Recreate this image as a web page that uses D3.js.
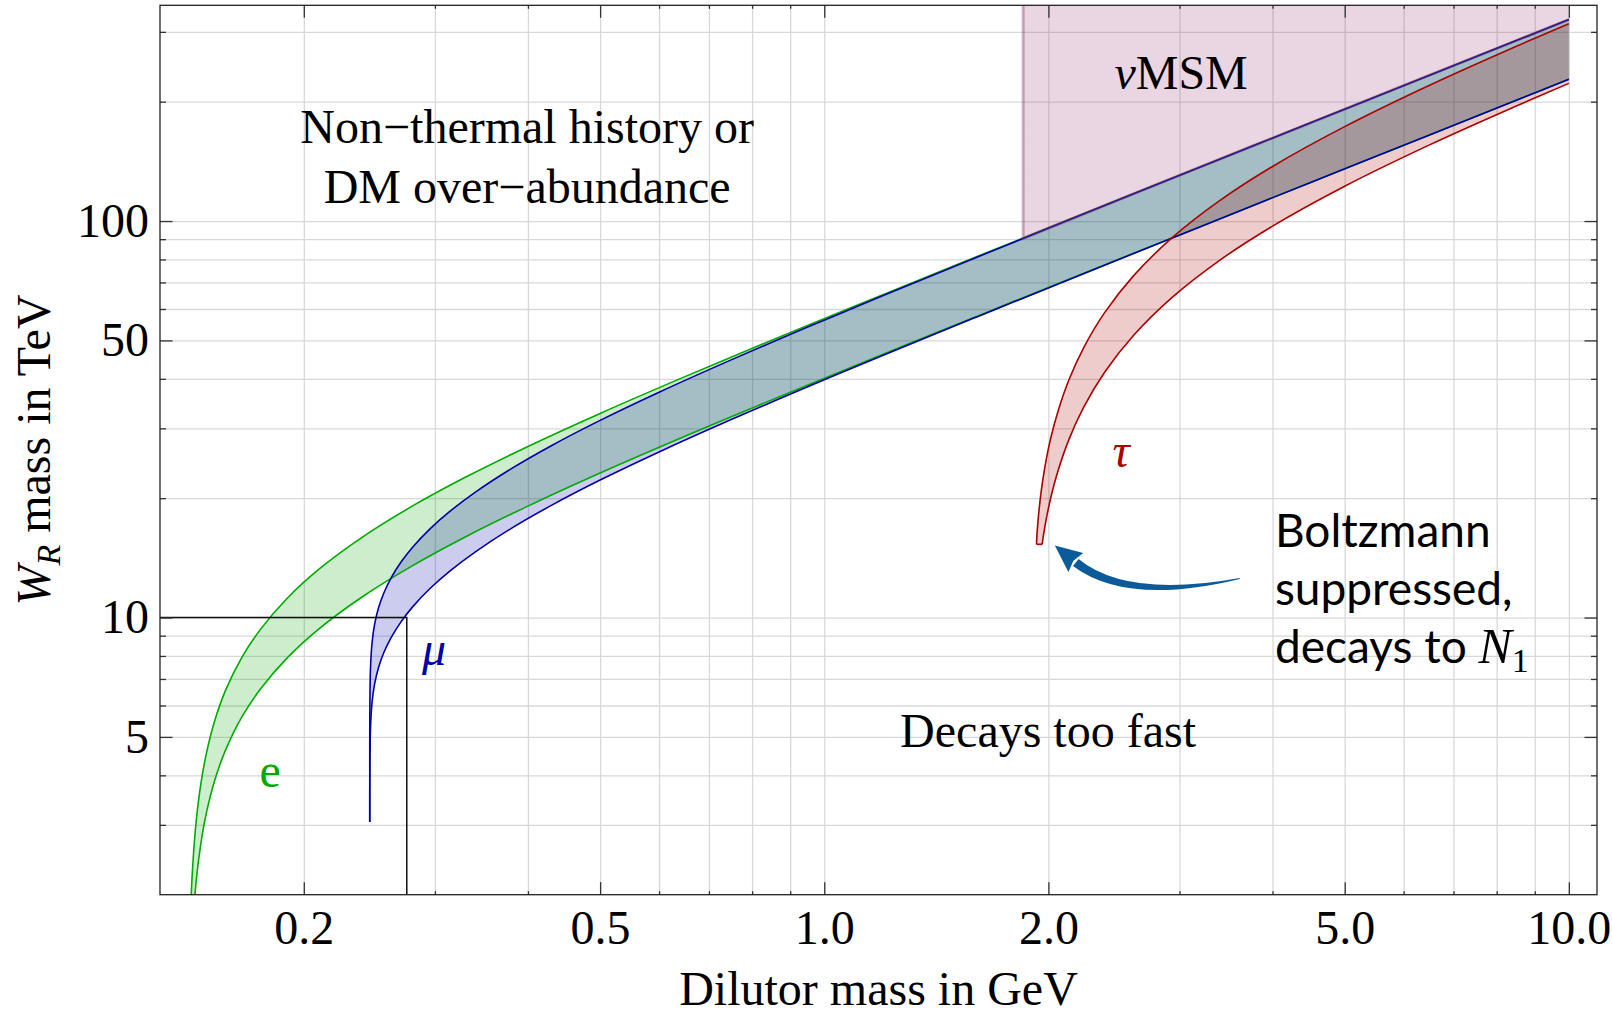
<!DOCTYPE html>
<html>
<head>
<meta charset="utf-8">
<script src="https://cdnjs.cloudflare.com/ajax/libs/d3/7.8.5/d3.min.js"></script>
<style>
  body { margin: 0; background: #fff; }
</style>
</head>
<body>
<div id="chart"></div>
<script>
// dilutor mass (GeV) and W_R mass (TeV)

// e band
var eMass  = [0.1400, 0.1410, 0.1420, 0.1435, 0.1455, 0.1480, 0.152, 0.157, 0.165, 0.175, 0.19, 0.21, 0.24, 0.28, 0.33, 0.40, 0.50, 0.65, 0.85, 1.1, 1.5, 2.0, 3.0, 4.5, 6.5, 8.5, 10];
var eUpper = [1.03, 1.87, 2.44, 3.11, 3.82, 4.55, 5.53, 6.55, 7.91, 9.35, 11.19, 13.28, 15.98, 19.12, 22.61, 27.01, 32.72, 40.51, 50.04, 61.05, 77.33, 96.13, 130.5, 176.9, 233.2, 285.2, 322.2];
var eLower = [0.73, 1.33, 1.73, 2.20, 2.70, 3.22, 3.91, 4.63, 5.60, 6.61, 7.91, 9.39, 11.30, 13.52, 15.99, 19.10, 23.14, 28.65, 35.38, 43.17, 54.68, 67.98, 92.27, 125.1, 164.9, 201.7, 227.8];

// mu band
var muMass  = [0.245236, 0.2453, 0.2458, 0.2470, 0.2490, 0.2520, 0.2560, 0.2620, 0.2700, 0.2800, 0.2950, 0.3150, 0.3400, 0.3800, 0.4300, 0.50, 0.60, 0.75, 0.95, 1.2, 1.6, 2.2, 3.2, 4.5, 6.5, 8.5, 10];
var muUpper = [4.33, 5.72, 7.44, 8.64, 9.64, 10.58, 11.50, 12.59, 13.78, 15.04, 16.69, 18.60, 20.72, 23.74, 27.13, 31.42, 37.00, 44.65, 54.01, 64.86, 80.94, 103.1, 136.9, 176.9, 233.2, 285.1, 322.2];
var muLower = [3.05, 4.04, 5.26, 6.11, 6.81, 7.48, 8.14, 8.90, 9.74, 10.64, 11.80, 13.15, 14.65, 16.79, 19.18, 22.22, 26.16, 31.57, 38.19, 45.86, 57.23, 72.92, 96.78, 125.1, 164.9, 201.6, 227.8];

// tau band
var tauUpperMass = [1.9277, 1.93, 1.935, 1.94, 1.95, 1.965, 1.99, 2.015, 2.06, 2.13, 2.23, 2.38, 2.6, 2.93, 3.4, 4.0, 5.0, 6.5, 8.5, 10];
var tauUpper     = [15.3, 16.02, 17.14, 18.12, 19.87, 22.15, 25.45, 28.40, 33.10, 39.67, 47.90, 58.76, 72.63, 90.64, 112.7, 137.3, 173.0, 220.0, 275.8, 314.5];
var tauLowerMass = [1.9614, 1.965, 1.975, 1.99, 2.015, 2.06, 2.13, 2.23, 2.38, 2.6, 2.93, 3.4, 4.0, 5.0, 6.5, 8.5, 10];
var tauLower     = [15.3, 15.66, 16.64, 18.00, 20.08, 23.41, 28.06, 33.88, 41.55, 51.36, 64.09, 79.71, 97.08, 122.4, 155.6, 195.0, 222.4];

// nuMSM region, bounded below by the mu band
var vmsmMass  = [1.85, 2.2, 3.2, 4.5, 6.5, 8.5, 10];
var vmsmLower = [90.4, 103.1, 136.9, 176.9, 233.2, 285.1, 322.2];

// black box corner (mass, W_R)
var boxCorner = [0.275, 10];

// ticks
var xMajor = [0.2, 0.5, 1, 2, 5, 10];
var xLabels = ["0.2", "0.5", "1.0", "2.0", "5.0", "10.0"];
var xMinor = [0.3, 0.4, 0.6, 0.7, 0.8, 0.9, 3, 4, 6, 7, 8, 9];
var yMajor = [5, 10, 50, 100];
var yLabels = ["5", "10", "50", "100"];
var yMinor = [3, 4, 6, 7, 8, 9, 20, 30, 40, 60, 70, 80, 90, 200, 300];

var SERIF = '"Liberation Serif", "Times New Roman", serif';
var SANS = 'Lato, "Open Sans", sans-serif';

function zip(ms, ws){
    return ms.map(function(m, i){ return [m, ws[i]]; });
}

function init(){

    var w = 1612, h = 1017;
    var left = 160, right = 1597, top = 5.3, bottom = 894.7;

    var x = d3.scaleLog().domain([0.1282, 10.91]).range([left, right]);
    var y = d3.scaleLog().domain([2, 350]).range([bottom, top]);

    var svg = d3.select("#chart")
                .append("svg")
                .attr("width", w)
                .attr("height", h);

    // grid
    svg.append("g")
        .attr("transform", "translate(0," + bottom + ")")
        .call(d3.axisBottom(x).tickValues(xMajor.concat(xMinor)).tickSize(-(bottom - top)).tickFormat(""))
        .call(function(g){ g.select(".domain").remove(); })
        .selectAll("line").attr("stroke", "#d8d8d8").attr("stroke-width", 1.3);

    svg.append("g")
        .attr("transform", "translate(" + left + ",0)")
        .call(d3.axisLeft(y).tickValues(yMajor.concat(yMinor)).tickSize(-(right - left)).tickFormat(""))
        .call(function(g){ g.select(".domain").remove(); })
        .selectAll("line").attr("stroke", "#d8d8d8").attr("stroke-width", 1.3);

    svg.append("clipPath").attr("id", "plotclip")
        .append("rect")
        .attr("x", left).attr("y", top)
        .attr("width", right - left).attr("height", bottom - top);

    var plot = svg.append("g").attr("clip-path", "url(#plotclip)");

    var line = d3.line()
                 .x(function(d){ return x(d[0]); })
                 .y(function(d){ return y(d[1]); })
                 .curve(d3.curveCatmullRom.alpha(0.5));

    // nuMSM fill
    var vmsm = zip(vmsmMass, vmsmLower);
    var purple = "#963270";
    plot.append("path")
        .attr("d", line(vmsm) + "L" + x(10) + "," + y(350) + "L" + x(vmsmMass[0]) + "," + y(350) + "Z")
        .attr("fill", purple)
        .attr("fill-opacity", 0.2);

    var bands = [
        { up: zip(eMass, eUpper), lo: zip(eMass, eLower), color: "#00aa00" },
        { up: zip(muMass, muUpper), lo: zip(muMass, muLower), color: "#0000aa" },
        { up: zip(tauUpperMass, tauUpper), lo: zip(tauLowerMass, tauLower), color: "#aa0000" }
    ];

    bands.forEach(function(b){
        var rev = line(b.lo.slice().reverse());
        plot.append("path")
            .attr("d", line(b.up) + "L" + rev.slice(1) + "Z")
            .attr("fill", b.color)
            .attr("fill-opacity", 0.2);
    });

    bands.forEach(function(b){
        plot.append("path").attr("d", line(b.up))
            .attr("fill", "none").attr("stroke", b.color).attr("stroke-width", 1.6);
        plot.append("path").attr("d", line(b.lo))
            .attr("fill", "none").attr("stroke", b.color).attr("stroke-width", 1.6);
        plot.append("line")
            .attr("x1", x(b.up[0][0])).attr("y1", y(b.up[0][1]))
            .attr("x2", x(b.lo[0][0])).attr("y2", y(b.lo[0][1]))
            .attr("stroke", b.color).attr("stroke-width", 1.6);
    });

    // nuMSM edge
    plot.append("path")
        .attr("d", "M" + x(vmsmMass[0]) + "," + y(350) + "L" + line(vmsm).slice(1))
        .attr("fill", "none")
        .attr("stroke", purple)
        .attr("stroke-opacity", 0.4)
        .attr("stroke-width", 3);

    // black box
    plot.append("path")
        .attr("d", "M" + left + "," + y(boxCorner[1]) + "H" + x(boxCorner[0]) + "V" + bottom)
        .attr("fill", "none")
        .attr("stroke", "#111")
        .attr("stroke-width", 1.5);

    // frame and ticks
    function styleAxis(g){
        g.select(".domain").remove();
        g.selectAll(".tick line").attr("stroke", "#333").attr("stroke-width", 1.3);
        g.selectAll("text").attr("font-family", SERIF).attr("font-size", 48).attr("fill", "#000");
    }

    svg.append("g").attr("transform", "translate(0," + bottom + ")")
        .call(d3.axisBottom(x).tickValues(xMajor).tickSize(-12.5).tickPadding(15)
              .tickFormat(function(d, i){ return xLabels[i]; }))
        .call(styleAxis);
    svg.append("g").attr("transform", "translate(0," + bottom + ")")
        .call(d3.axisBottom(x).tickValues(xMinor).tickSize(-3.5).tickFormat(""))
        .call(styleAxis);
    svg.append("g").attr("transform", "translate(0," + top + ")")
        .call(d3.axisTop(x).tickValues(xMajor).tickSize(-12.5).tickFormat(""))
        .call(styleAxis);
    svg.append("g").attr("transform", "translate(0," + top + ")")
        .call(d3.axisTop(x).tickValues(xMinor).tickSize(-3.5).tickFormat(""))
        .call(styleAxis);

    svg.append("g").attr("transform", "translate(" + left + ",0)")
        .call(d3.axisLeft(y).tickValues(yMajor).tickSize(-12.5).tickPadding(11)
              .tickFormat(function(d, i){ return yLabels[i]; }))
        .call(styleAxis);
    svg.append("g").attr("transform", "translate(" + left + ",0)")
        .call(d3.axisLeft(y).tickValues(yMinor).tickSize(-6).tickFormat(""))
        .call(styleAxis);
    svg.append("g").attr("transform", "translate(" + right + ",0)")
        .call(d3.axisRight(y).tickValues(yMajor).tickSize(-12.5).tickFormat(""))
        .call(styleAxis);
    svg.append("g").attr("transform", "translate(" + right + ",0)")
        .call(d3.axisRight(y).tickValues(yMinor).tickSize(-6).tickFormat(""))
        .call(styleAxis);

    svg.append("rect")
        .attr("x", left).attr("y", top)
        .attr("width", right - left).attr("height", bottom - top)
        .attr("fill", "none")
        .attr("stroke", "#222")
        .attr("stroke-width", 1.3);

    // axis titles
    svg.append("text")
        .attr("x", (left + right) / 2)
        .attr("y", 1005)
        .attr("text-anchor", "middle")
        .attr("font-family", SERIF)
        .attr("font-size", 48)
        .text("Dilutor mass in GeV");

    var yt = svg.append("text")
        .attr("transform", "translate(50," + ((top + bottom) / 2) + ") rotate(-90)")
        .attr("text-anchor", "middle")
        .attr("font-family", SERIF)
        .attr("font-size", 48);
    yt.append("tspan").attr("font-style", "italic").text("W");
    yt.append("tspan").attr("font-style", "italic").attr("font-size", 34).attr("dy", 10).text("R");
    yt.append("tspan").attr("dy", -10).text(" mass in TeV");

    // labels inside the plot
    function label(m, wr, txt, color, italic, anchor){
        return svg.append("text")
            .attr("x", x(m)).attr("y", y(wr))
            .attr("text-anchor", anchor || "middle")
            .attr("font-family", SERIF)
            .attr("font-size", 48)
            .attr("font-style", italic ? "italic" : "normal")
            .attr("fill", color)
            .text(txt);
    }

    label(0.399, 157.6, "Non\u2212thermal history or", "#000");
    label(0.399, 111.2, "DM over\u2212abundance", "#000");
    label(1.998, 4.71, "Decays too fast", "#000");
    label(0.1803, 3.73, "e", "#00aa00");
    label(0.2993, 7.58, "\u03bc", "#0000aa", true);
    label(2.504, 23.94, "\u03c4", "#aa0000", true);

    var nu = label(3.015, 214.9, "", "#000");
    nu.append("tspan").attr("font-style", "italic").text("\u03bd");
    nu.append("tspan").text("MSM");

    // Boltzmann note
    var bx = x(4.03), by = y(15.07);
    var note = svg.append("text")
        .attr("font-family", SANS)
        .attr("font-size", 46)
        .attr("fill", "#000");
    note.append("tspan").attr("x", bx).attr("y", by).text("Boltzmann");
    note.append("tspan").attr("x", bx).attr("y", by + 58).text("suppressed,");
    var l3 = note.append("tspan").attr("x", bx).attr("y", by + 116).text("decays to ");
    note.append("tspan").attr("font-family", SERIF).attr("font-style", "italic").attr("font-size", 50).text("N");
    note.append("tspan").attr("font-family", SERIF).attr("font-size", 34).attr("dy", 9).text("1");

    // arrow, tip placed at the bottom of the tau band
    var tx = x(2.04), ty = y(15.2);
    var arrowColor = "#0b5b9b";
    svg.append("path")
        .attr("d", "M" + (tx + 23.8) + "," + (ty + 13.5) +
                   "Q" + (tx + 72) + "," + (ty + 53) + " " + (tx + 185) + "," + (ty + 32.5) +
                   "L" + (tx + 185) + "," + (ty + 33.5) +
                   "Q" + (tx + 72) + "," + (ty + 61) + " " + (tx + 18.2) + "," + (ty + 20.5) + "Z")
        .attr("fill", arrowColor);
    svg.append("path")
        .attr("d", "M" + tx + "," + ty +
                   "L" + (tx + 28.4) + "," + (ty + 7.5) +
                   "L" + (tx + 18.6) + "," + (ty + 15.2) +
                   "L" + (tx + 13.6) + "," + (ty + 26.5) + "Z")
        .attr("fill", arrowColor);
}

window.onload = init;
</script>
</body>
</html>
